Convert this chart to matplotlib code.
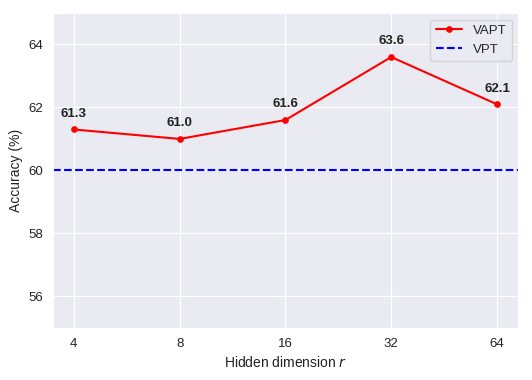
import matplotlib
matplotlib.use("Agg")
import matplotlib.pyplot as plt
import seaborn as sns

# hidden dimension r vs accuracy
dims = [4, 8, 16, 32, 64]
vapt_acc = [61.3, 61.0, 61.6, 63.6, 62.1]
vpt_acc = 60.0

sns.set_style("darkgrid")
plt.rcParams['font.family'] = ['Liberation Sans', 'DejaVu Sans']

fig = plt.figure(figsize=(5.32, 3.8), dpi=100)
ax = fig.add_axes([0.099, 0.137, 0.875, 0.829])

xs = list(range(len(dims)))
ax.plot(xs, vapt_acc, color='red', marker='o', markersize=3.8, linewidth=1.5, label='VAPT')
ax.axhline(vpt_acc, color='blue', linestyle='--', linewidth=1.5, label='VPT')

# value labels above each point
for x, y in zip(xs, vapt_acc):
    ax.annotate("%.1f" % y, (x, y), xytext=(0, 7), textcoords='offset points',
                ha='center', va='bottom', fontsize=9.5, fontweight='bold', color='#222222')

ax.set_xticks(xs)
ax.set_xticklabels([str(d) for d in dims])
ax.set_xlim(-0.2, 4.2)
ax.set_ylim(55, 65)
ax.set_yticks([56, 58, 60, 62, 64])
ax.tick_params(labelsize=9.5, colors='#222222')
ax.set_xlabel("Hidden dimension $r$", fontsize=10, color='#222222')
ax.set_ylabel("Accuracy (%)", fontsize=10, color='#222222')
ax.legend(loc='upper right', fontsize=9.5)

fig.savefig("out.png", dpi=100)
plt.close(fig)
